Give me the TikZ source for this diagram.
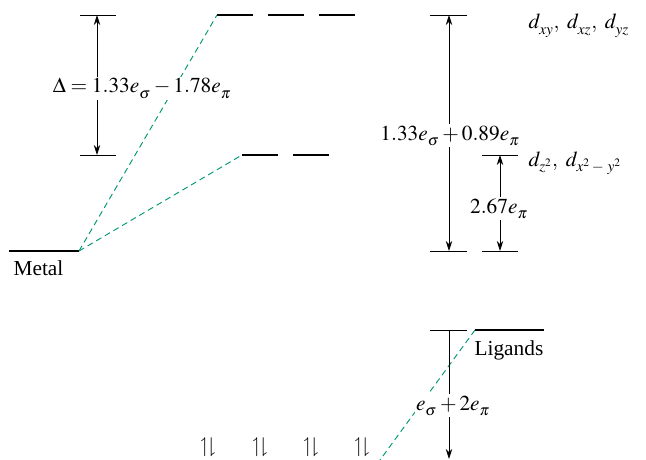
\documentclass[tikz,border=0pt]{standalone}
\usepackage{mathptmx}
\usepackage{amssymb}
\usepackage[no-math]{fontspec}
\setmainfont{Liberation Serif}
\usetikzlibrary{arrows.meta}
\definecolor{corrgreen}{RGB}{0,150,115}
% pedice abbassato
\newcommand{\lsub}[1]{_{\lower1.5pt\hbox{\fontsize{11.5}{12}\selectfont$#1$}}}
\tikzset{
  level/.style={line width=1.8pt},
  tick/.style={line width=0.6pt},
  dim/.style={line width=0.6pt, {Stealth[length=7.5pt,width=4.8pt]}-{Stealth[length=7.5pt,width=4.8pt]}},
  corr/.style={corrgreen, line width=0.7pt, dash pattern=on 4.5pt off 3pt},
  lbl/.style={font=\fontsize{16}{19}\selectfont, inner sep=1pt},
}
\begin{document}
\begin{tikzpicture}[x=0.75pt, y=-0.75pt]
\useasboundingbox (0,0) rectangle (646,460);
\clip (0,0) rectangle (646,460);
% livelli
\draw[level] (9,251) -- (79,251) coordinate (metal);
\node[lbl, anchor=base west] (metallbl) at (12,275) {Metal};
\draw[level] (217,15) coordinate (tA) -- (253,15);
\draw[level] (268,15) -- (304,15);
\draw[level] (319,15) -- (355,15);
\draw[level] (242,155) coordinate (eA) -- (278,155);
\draw[level] (293,155) -- (329,155);
\draw[level] (475,330) coordinate (lig) -- (544,330);
\node[lbl, anchor=base west] (liglbl) at (473,355) {Ligands};
% correlazioni
\coordinate (out) at (380,460);
\draw[corr] (metal) -- (tA);
\draw[corr] (metal) -- (eA);
\draw[corr] (lig) -- (out);
% Delta
\draw[tick] (80,15) -- (116,15);
\draw[tick] (80,155) -- (116,155);
\draw[dim] (97,15) -- (97,155);
\node[lbl, anchor=base, fill=white] (delta) at (142,93)
  {$\Delta = 1.33e\lsub{\sigma} - 1.78e\lsub{\pi}$};
% scala a destra
\draw[tick] (430,15) -- (467,15);
\draw[tick] (430,251) -- (467,251);
\draw[tick] (482,251) -- (518,251);
\draw[tick] (482,155) -- (518,155);
\draw[dim] (449,15) -- (449,251);
\node[lbl, anchor=base, fill=white] (sig) at (450,140)
  {$1.33e\lsub{\sigma} + 0.89e\lsub{\pi}$};
\draw[dim] (500,155) -- (500,251);
\node[lbl, anchor=base, fill=white] (pi) at (499,213) {$2.67e\lsub{\pi}$};
\node[lbl, anchor=base west] (tg) at (527,29) {$d\lsub{xy},\ d\lsub{xz},\ d\lsub{yz}$};
\node[lbl, anchor=base west] (eg) at (527,166) {$d\lsub{z^2},\ d\lsub{x^2-\,y^2}$};
% leganti
\draw[tick] (430,330) -- (467,330);
\draw[dim, -{Stealth[length=7.5pt,width=4.8pt]}] (449,330) -- (449,459);
\node[lbl, anchor=base, fill=white] (lig2) at (453,410) {$e\lsub{\sigma} + 2e\lsub{\pi}$};
\foreach \x [count=\i] in {208,260,311,362}
  \node[lbl] (pair\i) at (\x,447) {$\upharpoonleft\!\downharpoonright$};
\end{tikzpicture}
\end{document}
